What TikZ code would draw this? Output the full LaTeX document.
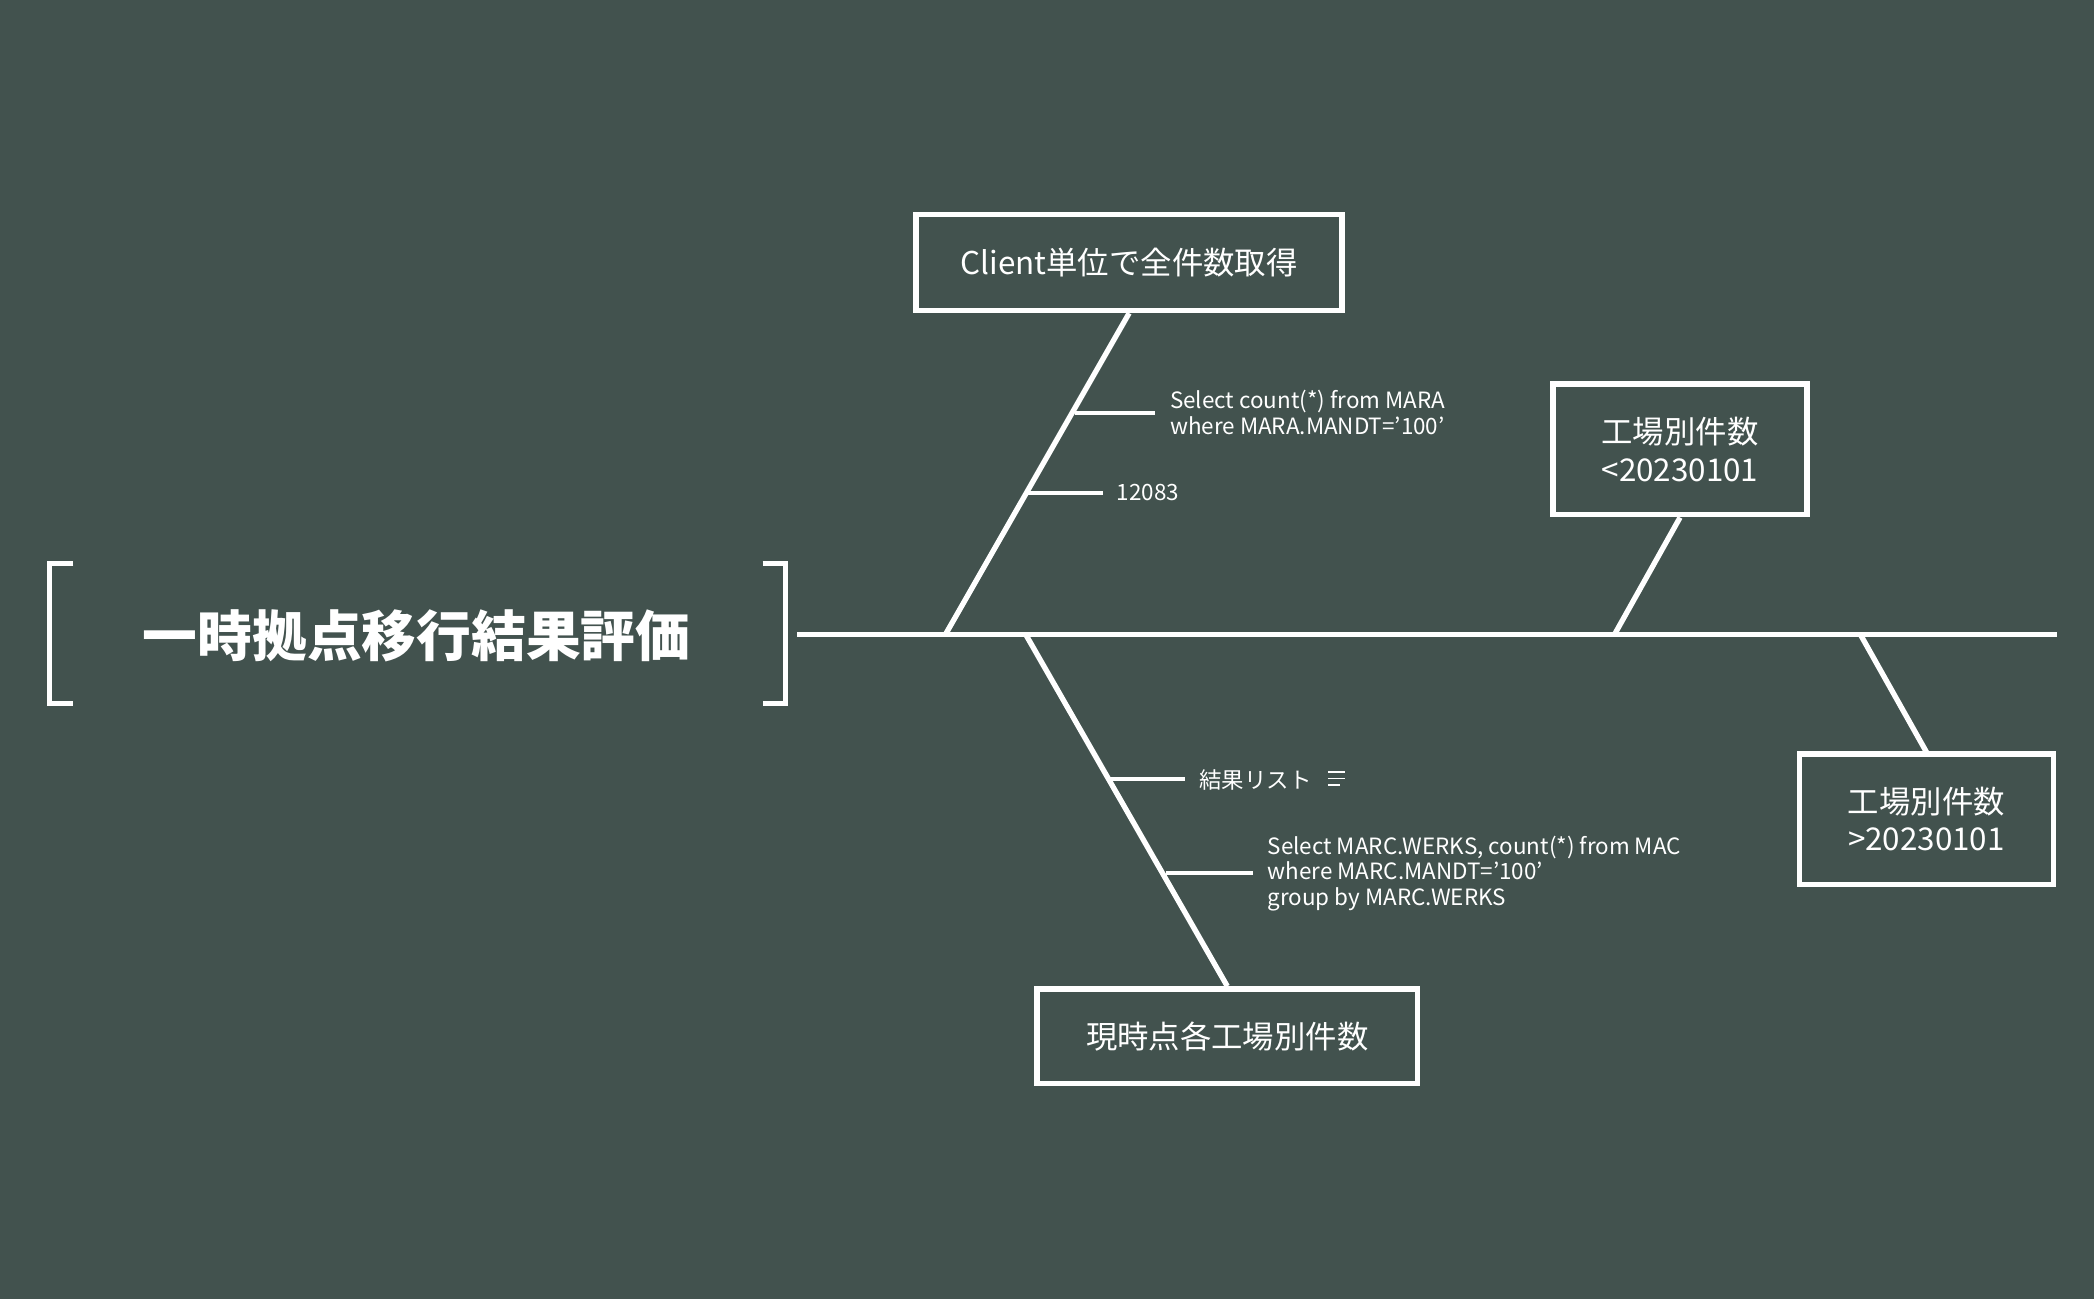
\documentclass[tikz,border=0pt]{standalone}
\usepackage{fontspec}
\setmainfont{Noto Sans CJK JP}
\definecolor{bg}{HTML}{42524E}
\begin{document}
\begin{tikzpicture}[x=1pt,y=-1pt,
  ln/.style={white,line width=4pt},
  bx/.style={draw=white,line width=4pt,text=white,align=center,font=\fontsize{23.5}{28}\selectfont,inner sep=0pt},
  sm/.style={text=white,anchor=west,align=left,font=\fontsize{16.8}{19}\selectfont,inner sep=0pt}]
\fill[bg] (0,0) rectangle (1568,973);
\useasboundingbox (0,0) rectangle (1568,973);
% brackets
\draw[ln] (55,422) -- (37,422) -- (37,527) -- (55,527);
\draw[ln] (571,422) -- (588,422) -- (588,527) -- (571,527);
\node[text=white,font=\fontsize{41}{46}\selectfont\bfseries] (title) at (312,476) {一時拠点移行結果評価};
% spine
\coordinate (s0) at (597,475); \coordinate (s1) at (1540,475);
\draw[ln] (s0) -- (s1);
% boxes
\node[bx,minimum width=319pt,minimum height=72pt] (b1) at (845.5,196.5) {Client単位で全件数取得};
\node[bx,minimum width=190pt,minimum height=98pt] (b2) at (1258,336.5) {工場別件数\\<20230101};
\node[bx,minimum width=285pt,minimum height=71pt] (b3) at (919,776) {現時点各工場別件数};
\node[bx,minimum width=190pt,minimum height=98pt] (b4) at (1442.5,613.5) {工場別件数\\>20230101};
\coordinate (j1) at (708,475); \coordinate (j2) at (1209,475);
\coordinate (j3) at (768,475); \coordinate (j4) at (1393,475);
\draw[ln] (b1.south) -- (j1);
\draw[ln] (b2.south) -- (j2);
\draw[ln] (j3) -- (b3.north);
\draw[ln] (j4) -- (1443,564);
% sub-branches
\coordinate (t1) at (805,309); \coordinate (t2) at (770,369);
\coordinate (t3) at (831,583); \coordinate (t4) at (873,654);
\node[sm] (l1) at (876,309) {Select count(*) from MARA\\where MARA.MANDT='100'};
\node[sm] (l2) at (836,369) {12083};
\node[sm] (l3) at (898,584) {結果リスト};
\node[sm] (l4) at (949,654) {Select MARC.WERKS, count(*) from MAC\\where MARC.MANDT='100'\\group by MARC.WERKS};
\draw[white,line width=3pt] (t1) -- (865,309);
\draw[white,line width=3pt] (t2) -- (826,369);
\draw[white,line width=3pt] (t3) -- (887,583);
\draw[white,line width=3pt] (t4) -- (938,654);
\draw[white,line width=1.2pt] ([xshift=12pt]l3.east |- 0,578) -- +(13,0) ([xshift=12pt]l3.east |- 0,583) -- +(13,0) ([xshift=12pt]l3.east |- 0,588) -- +(9,0);
\end{tikzpicture}
\end{document}
